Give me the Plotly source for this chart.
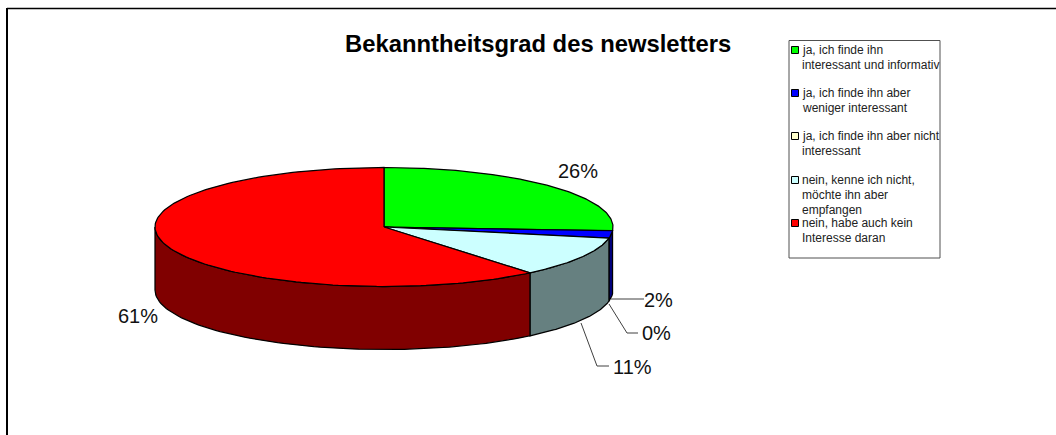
import numpy as np
import plotly.graph_objects as go

categories = ["ja, ich finde ihn interessant und informativ",
              "ja, ich finde ihn aber weniger interessant",
              "ja, ich finde ihn aber nicht interessant",
              "nein, kenne ich nicht, möchte ihn aber empfangen",
              "nein, habe auch kein Interesse daran"]
legend_lines = [["ja, ich finde ihn", "interessant und informativ"],
                ["ja, ich finde ihn aber", "weniger interessant"],
                ["ja, ich finde ihn aber nicht", "interessant"],
                ["nein, kenne ich nicht,", "möchte ihn aber", "empfangen"],
                ["nein, habe auch kein", "Interesse daran"]]
values = [26, 2, 0, 11, 61]
top_colors = ["#00ff00", "#0000ff", "#ffffcc", "#ccffff", "#ff0000"]
side_colors = ["#008000", "#000080", "#808066", "#668080", "#800000"]
title = "Bekanntheitsgrad des newsletters"

W, H = 1056, 435
CX, CY, RX, RY, DEPTH = 384, 227, 229, 59.5, 63
FONT = "Liberation Sans, Arial, sans-serif"

fig = go.Figure()

def pt(a, dy=0):
    return CX + RX * np.sin(a), CY - RY * np.cos(a) + dy

def poly(x, y, fill):
    fig.add_trace(go.Scatter(x=list(x), y=list(y), mode="lines", fill="toself",
                             fillcolor=fill, line=dict(color="black", width=1.25),
                             hoverinfo="skip", showlegend=False))

fr = np.cumsum([0] + values) / sum(values)
angles = fr * 2 * np.pi
for i in [1, 3, 4]:
    a0, a1 = max(angles[i], np.pi / 2), min(angles[i + 1], 3 * np.pi / 2)
    if a1 <= a0:
        continue
    t = np.linspace(a0, a1, 80)
    xt, yt = pt(t)
    xb, yb = pt(t[::-1], DEPTH)
    poly(np.r_[xt, xb, xt[0]], np.r_[yt, yb, yt[0]], side_colors[i])
for i, v in enumerate(values):
    if v == 0:
        continue
    t = np.linspace(angles[i], angles[i + 1], 160)
    xt, yt = pt(t)
    poly(np.r_[CX, xt, CX], np.r_[CY, yt, CY], top_colors[i])

ink = "#404040"
def leader(xs, ys):
    fig.add_trace(go.Scatter(x=xs, y=ys, mode="lines", line=dict(color=ink, width=1),
                             hoverinfo="skip", showlegend=False))
leader([611, 644], [299, 299])
leader([609, 627, 638], [304, 333, 333])
leader([581, 597, 609], [323, 366, 366])

labels_pos = [(578, 171), (658, 300), (656, 333), (632, 367), (138, 316)]
for v, (x, y) in zip(values, labels_pos):
    fig.add_annotation(x=x, y=y, text=f"{v}%", showarrow=False, xanchor="center", yanchor="middle",
                       font=dict(family=FONT, size=20, color="#111111"))

fig.add_annotation(x=538, y=43.5, text=f"<b>{title}</b>", showarrow=False, xanchor="center",
                   yanchor="middle", font=dict(family=FONT, size=23.8, color="black"))

shapes = [
    dict(type="line", x0=7, x1=7, y0=8, y1=435, line=dict(color="black", width=2)),
    dict(type="line", x0=7, x1=1056, y0=8.5, y1=8.5, line=dict(color="black", width=1.5)),
    dict(type="rect", x0=789, x1=940, y0=40.5, y1=258, line=dict(color="#505050", width=1),
         fillcolor="white", layer="below"),
]
lx = 801
line_h = 15.2
ys = [50, 93, 136, 180, 223]
for names, col, y0 in zip(legend_lines, top_colors, ys):
    shapes.append(dict(type="rect", x0=791.5, x1=798.5, y0=y0 - 3.5, y1=y0 + 3.5,
                       line=dict(color="black", width=1), fillcolor=col))
    for j, s in enumerate(names):
        fig.add_annotation(x=lx, y=y0 + j * line_h, text=s, showarrow=False, xanchor="left",
                           yanchor="middle", width=138, align="left", borderpad=0,
                           font=dict(family=FONT, size=12, color="#222222"))

fig.update_layout(width=W, height=H, margin=dict(l=0, r=0, t=0, b=0), paper_bgcolor="white",
                  plot_bgcolor="white", shapes=shapes, showlegend=False)
fig.update_xaxes(range=[0, W], visible=False, fixedrange=True)
fig.update_yaxes(range=[H, 0], visible=False, fixedrange=True)
fig.write_html("out.html", config=dict(displayModeBar=False),
               post_script="document.body.style.margin='0';document.body.style.overflow='hidden';")
